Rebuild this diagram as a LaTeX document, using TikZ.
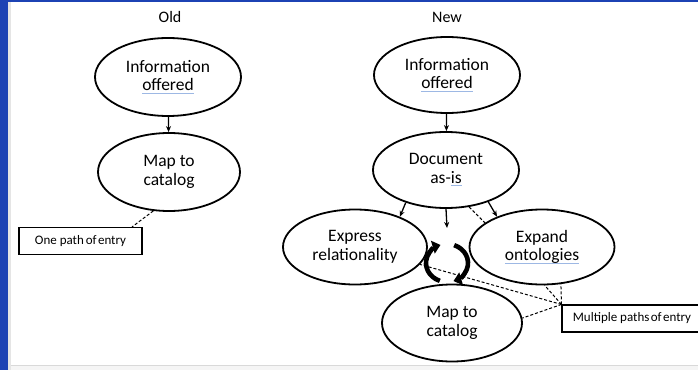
\documentclass[tikz,border=0pt]{standalone}
\usepackage{fontspec}
\setmainfont{Carlito}
\usetikzlibrary{shapes.geometric, arrows.meta}
\definecolor{frameblue}{HTML}{1C42B4}
\definecolor{spellblue}{HTML}{9DB8E4}
\newcommand{\spellmark}[1]{\setbox0\hbox{#1}\rlap{\color{spellblue}\rule[-2.8pt]{\wd0}{1.1pt}}\box0}
\tikzset{
  bubble/.style={ellipse, draw, line width=1.8pt, inner sep=0pt, align=center,
    font=\fontsize{17.5}{18.5}\selectfont},
  tag/.style={rectangle, draw, line width=1.1pt, minimum height=27pt,
    font=\fontsize{13}{15}\selectfont},
  flow/.style={-{Stealth[length=6pt,width=5pt]}, line width=1.3pt},
  pathline/.style={dash pattern=on 3pt off 2pt, line width=1pt},
  cycarrow/.style={-{Triangle[length=8pt,width=13pt]}, line width=4.6pt},
}

\begin{document}
\begin{tikzpicture}[x=1pt, y=1pt]
  \useasboundingbox (0,0) rectangle (698,370);
  \clip (0,0) rectangle (698,370);
  \fill[white] (0,0) rectangle (698,370);
  \fill[black!4] (8,0) rectangle (698,5);
  \draw[black!15] (8,5) -- (698,5);
  \fill[black!10] (8,0) rectangle (11,368);
  \fill[frameblue] (0,0) rectangle (8,370);
  \fill[frameblue] (0,368) rectangle (698,370);

  % old
  \node[font=\fontsize{16}{18}\selectfont] (oldtitle) at (170,353) {Old};
  \node[bubble, minimum width=146pt, minimum height=78pt] (oldinfo) at (168,293)
    {Information\\\spellmark{offered}};
  \node[bubble, minimum width=142pt, minimum height=78pt] (oldmap) at (169,198)
    {Map to\\catalog};
  \node[tag, minimum width=123pt] (onepath) at (80.5,129) {One path\hspace{-1pt} of\hspace{-1.5pt} entry};
  \draw[flow] (oldinfo) -- (oldmap);
  \draw[pathline] (oldmap.-112) -- (onepath.north -| 132,0);

  % new
  \node[font=\fontsize{16}{18}\selectfont] (newtitle) at (447,353) {New};
  \node[bubble, minimum width=146pt, minimum height=76pt] (newinfo) at (447,295)
    {Information\\\spellmark{offered}};
  \node[bubble, minimum width=146pt, minimum height=76pt] (doc) at (446,200)
    {Document\\as-\spellmark{is}};
  \node[bubble, minimum width=144pt, minimum height=75pt] (express) at (355,123)
    {Express\\relationality};
  \node[bubble, minimum width=145pt, minimum height=75pt] (expand) at (542,123)
    {Expand\\\spellmark{ontologies}};
  \node[bubble, minimum width=140pt, minimum height=77pt] (newmap) at (452,47)
    {Map to\\catalog};
  \node[tag, minimum width=137pt] (multipath) at (630.5,51.5)
    {\hspace*{3pt}Multiple paths\hspace{-1.5pt} of\hspace{-1.5pt} entry};
  \coordinate (mid) at (447,142);
  \coordinate (cyc) at (447,107);

  \draw[flow] (newinfo) -- (doc);
  \draw[flow] (doc.-141) -- (express.34);
  \draw[flow] (doc.south) -- (mid);
  \draw[flow] (doc.-37) -- (expand.146);
  \draw[pathline] (doc.-58) -- (expand.157);

  \draw[cycarrow] ([shift={(250:21 and 19)}]cyc) arc[start angle=250, end angle=108, x radius=21, y radius=19];
  \draw[cycarrow] ([shift={(70:21 and 19)}]cyc) arc[start angle=70, end angle=-72, x radius=21, y radius=19];

  \draw[pathline] (multipath.north west) -- (express.-15);
  \draw[pathline] (multipath.north west) -- (newmap.4);
  \draw[pathline] (multipath.north west) -- (expand.-86);
  \draw[pathline] (multipath.north west) -- (expand.-63);
\end{tikzpicture}
\end{document}
